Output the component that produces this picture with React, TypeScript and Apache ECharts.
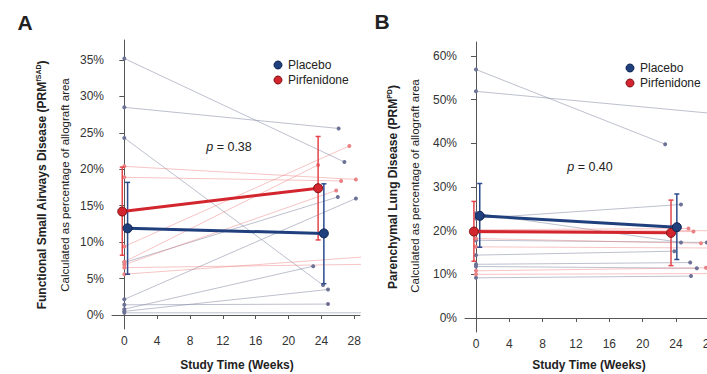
import React, { useEffect, useRef } from "react";
import * as echarts from "echarts";

const FONT = '"Liberation Sans", Arial, Helvetica, sans-serif';

// ---------- Panel A: Functional small airways disease (PRM fSAD, %) ----------
const aWeekTicks = [0, 4, 8, 12, 16, 20, 24, 28];
const aPctTicks = [0, 5, 10, 15, 20, 25, 30, 35];
const aPlaceboStart = [35.2, 28.5, 24.3, 7.2, 2.15, 0.8, 1.4, 0.5, 0.3];
const aPlaceboEndWeek = [26.8, 26.1, 24.2, 26.0, 28.2, 23.0, 24.8, 24.8, 32];
const aPlaceboEnd = [21.0, 25.6, 4.1, 16.2, 16.0, 6.7, 1.5, 3.5, 0.3];
const aPirfStart = [20.4, 18.9, 9.4, 7.3, 6.9, 6.5, 5.6];
const aPirfEndWeek = [28.2, 26.4, 27.4, 23.6, 25.8, 32, 32];
const aPirfEnd = [18.6, 18.4, 23.2, 20.6, 17.1, 7.0, 8.2];
const aPlaceboMeanWeek = [0.4, 24.3];
const aPlaceboMean = [11.9, 11.2];
const aPlaceboLow = [5.6, 4.3];
const aPlaceboHigh = [18.2, 18.0];
const aPirfMeanWeek = [-0.25, 23.6];
const aPirfMean = [14.2, 17.4];
const aPirfLow = [8.2, 10.3];
const aPirfHigh = [20.3, 24.5];

// ---------- Panel B: Parenchymal lung disease (PRM PD, %) ----------
const bWeekTicks = [0, 4, 8, 12, 16, 20, 24, 28];
const bPctTicks = [0, 10, 20, 30, 40, 50, 60];
const bPlaceboStart = [56.9, 51.9, 22.8, 24.0, 14.4, 12.3, 11.8, 9.2, 17.8];
const bPlaceboEndWeek = [22.7, 32, 24.6, 24.6, 23.8, 25.7, 26.5, 25.8, 27.7];
const bPlaceboEnd = [39.8, 46.2, 26.0, 17.3, 15.3, 12.7, 11.4, 9.6, 17.3];
const bPirfStart = [20.2, 19.5, 18.2, 16.3, 10.8, 10.0, 20.0];
const bPirfEndWeek = [25.5, 26.1, 27.0, 32, 27.6, 32, 32];
const bPirfEnd = [20.5, 19.8, 17.1, 16.0, 11.5, 10.2, 20.0];
const bPlaceboMeanWeek = [0.45, 24.1];
const bPlaceboMean = [23.4, 20.8];
const bPlaceboLow = [16.2, 13.4];
const bPlaceboHigh = [30.8, 28.4];
const bPirfMeanWeek = [-0.25, 23.4];
const bPirfMean = [19.8, 19.5];
const bPirfLow = [13.0, 12.0];
const bPirfHigh = [26.7, 27.0];

const groupNames = ["Placebo", "Pirfenidone"];

const C_PLACEBO = "#1f3f7d";
const C_PLACEBO_DARK = "#0e2250";
const C_PIRF = "#d3252d";
const C_PIRF_DARK = "#7e1216";
const C_PLACEBO_LINE = "rgba(135,140,165,0.55)";
const C_PLACEBO_PT = "#6c7196";
const C_PIRF_LINE = "rgba(238,125,125,0.45)";
const C_PIRF_PT = "#ea8184";

function individual(g: number, starts: number[], endW: number[], ends: number[], lineColor: string, ptColor: string) {
  return starts.map((s, i) => ({
    type: "line",
    xAxisIndex: g,
    yAxisIndex: g,
    data: [
      [0, s],
      [endW[i], ends[i]],
    ],
    symbol: "circle",
    symbolSize: 4,
    showSymbol: true,
    silent: true,
    clip: true,
    z: 1,
    lineStyle: { color: lineColor, width: 1 },
    itemStyle: { color: ptColor },
  }));
}

function meanSeries(g: number, name: string, weeks: number[], vals: number[], color: string, dark: string) {
  return {
    name,
    type: "line",
    xAxisIndex: g,
    yAxisIndex: g,
    data: weeks.map((w, i) => [w, vals[i]]),
    symbol: "circle",
    symbolSize: 9,
    silent: true,
    z: 6,
    lineStyle: { color, width: 3 },
    itemStyle: { color, borderColor: dark, borderWidth: 1 },
  };
}

function errSeries(g: number, weeks: number[], lows: number[], highs: number[], color: string) {
  return {
    type: "custom",
    xAxisIndex: g,
    yAxisIndex: g,
    z: 5,
    silent: true,
    data: weeks.map((w, i) => [w, lows[i], highs[i]]),
    encode: { x: 0, y: [1, 2] },
    renderItem: (_params: any, api: any) => {
      const x = api.value(0);
      const top = api.coord([x, api.value(2)]);
      const bot = api.coord([x, api.value(1)]);
      const c = 2.5;
      const style = { stroke: color, lineWidth: 1.5 };
      return {
        type: "group",
        children: [
          { type: "line", shape: { x1: top[0], y1: top[1], x2: bot[0], y2: bot[1] }, style },
          { type: "line", shape: { x1: top[0] - c, y1: top[1], x2: top[0] + c, y2: top[1] }, style },
          { type: "line", shape: { x1: bot[0] - c, y1: bot[1], x2: bot[0] + c, y2: bot[1] }, style },
        ],
      };
    },
  };
}

function xAxisDef(g: number, min: number, max: number, ticks: number[]) {
  return {
    type: "value",
    gridIndex: g,
    min,
    max,
    axisLine: { show: true, lineStyle: { color: "#555", width: 1 } },
    axisTick: { show: true, length: 4, customValues: ticks, lineStyle: { color: "#555" } },
    axisLabel: { customValues: ticks, margin: 6, fontSize: 12, color: "#333", fontFamily: FONT },
    splitLine: { show: false },
  };
}

function yAxisDef(g: number, min: number, max: number, ticks: number[]) {
  return {
    type: "value",
    gridIndex: g,
    min,
    max,
    axisLine: { show: true, lineStyle: { color: "#555", width: 1 } },
    axisTick: { show: true, length: 5, customValues: ticks, lineStyle: { color: "#555" } },
    axisLabel: {
      customValues: ticks,
      margin: 8,
      fontSize: 12,
      color: "#333",
      fontFamily: FONT,
      formatter: (v: number) => `${v}%`,
    },
    splitLine: { show: false },
  };
}

function rotText(x: number, y: number, text: string, rich: any) {
  return {
    type: "text",
    x,
    y,
    rotation: Math.PI / 2,
    silent: true,
    style: { text, rich, align: "center", verticalAlign: "middle", fill: "#222", fontFamily: FONT },
  };
}

function plainText(x: number, y: number, text: string, size: number, weight: string, rich?: any, align = "center") {
  return {
    type: "text",
    x,
    y,
    silent: true,
    style: {
      text,
      rich,
      align,
      verticalAlign: "middle",
      fill: "#222",
      fontFamily: FONT,
      fontSize: size,
      fontWeight: weight,
    },
  };
}

function legendItems(x: number, y: number) {
  const fills = [C_PLACEBO, C_PIRF];
  const strokes = [C_PLACEBO_DARK, C_PIRF_DARK];
  const out: any[] = [];
  groupNames.forEach((n, i) => {
    out.push({
      type: "circle",
      silent: true,
      shape: { cx: x, cy: y + i * 15, r: 4 },
      style: { fill: fills[i], stroke: strokes[i], lineWidth: 1 },
    });
    out.push(plainText(x + 10, y + i * 15, n, 12, "normal", undefined, "left"));
  });
  return out;
}

const titleRich = {
  b: { fontSize: 12, fontWeight: "bold", fontFamily: FONT, color: "#222", lineHeight: 14 },
  s: { fontSize: 7, fontWeight: "bold", fontFamily: FONT, color: "#222", verticalAlign: "top", lineHeight: 14, padding: [0, 0, 6, 0] },
};
const subRich = { n: { fontSize: 11.5, fontFamily: FONT, color: "#333" } };
const pRich = {
  i: { fontSize: 12.5, fontStyle: "italic", fontFamily: FONT, color: "#222" },
  n: { fontSize: 12.5, fontFamily: FONT, color: "#222" },
};

export default function App() {
  const ref = useRef<HTMLDivElement>(null);
  useEffect(() => {
    if (!ref.current) return;
    const chart = echarts.init(ref.current, null, { renderer: "svg" });
    const option: any = {
      animation: false,
      backgroundColor: "#ffffff",
      textStyle: { fontFamily: FONT },
      grid: [
        { left: 112, top: 40, width: 248, height: 289, outerBoundsMode: "none", containLabel: false },
        { left: 465, top: 42, width: 248.5, height: 290, outerBoundsMode: "none", containLabel: false },
      ],
      xAxis: [xAxisDef(0, -1.5, 28.7, aWeekTicks), xAxisDef(1, -1.32, 28.5, bWeekTicks)],
      yAxis: [yAxisDef(0, -1.92, 37.74, aPctTicks), yAxisDef(1, -3.2, 63.2, bPctTicks)],
      graphic: [
        plainText(25, 22, "A", 21, "bold"),
        plainText(382, 21, "B", 21, "bold"),
        rotText(42, 185, "{b|Functional Small Airways Disease (PRM}{s|fSAD}{b|)}", titleRich),
        rotText(65, 185, "{n|Calculated as percentage of allograft area}", subRich),
        rotText(393, 187, "{b|Parenchymal Lung Disease (PRM}{s|PD}{b|)}", titleRich),
        rotText(415, 186, "{n|Calculated as percentage of allograft area}", subRich),
        plainText(237, 365, "Study Time (Weeks)", 12, "bold"),
        plainText(589, 365, "Study Time (Weeks)", 12, "bold"),
        plainText(229, 147, "{i|p}{n| = 0.38}", 12.5, "normal", pRich),
        plainText(590, 167, "{i|p}{n| = 0.40}", 12.5, "normal", pRich),
        ...legendItems(278, 65),
        ...legendItems(630, 68),
      ],
      series: [
        ...individual(0, aPlaceboStart, aPlaceboEndWeek, aPlaceboEnd, C_PLACEBO_LINE, C_PLACEBO_PT),
        ...individual(0, aPirfStart, aPirfEndWeek, aPirfEnd, C_PIRF_LINE, C_PIRF_PT),
        ...individual(1, bPlaceboStart, bPlaceboEndWeek, bPlaceboEnd, C_PLACEBO_LINE, C_PLACEBO_PT),
        ...individual(1, bPirfStart, bPirfEndWeek, bPirfEnd, C_PIRF_LINE, C_PIRF_PT),
        errSeries(0, aPirfMeanWeek, aPirfLow, aPirfHigh, "#e3454a"),
        errSeries(0, aPlaceboMeanWeek, aPlaceboLow, aPlaceboHigh, "#2b4a8c"),
        errSeries(1, bPirfMeanWeek, bPirfLow, bPirfHigh, "#e3454a"),
        errSeries(1, bPlaceboMeanWeek, bPlaceboLow, bPlaceboHigh, "#2b4a8c"),
        meanSeries(0, groupNames[1], aPirfMeanWeek, aPirfMean, C_PIRF, C_PIRF_DARK),
        meanSeries(0, groupNames[0], aPlaceboMeanWeek, aPlaceboMean, C_PLACEBO, C_PLACEBO_DARK),
        meanSeries(1, groupNames[1], bPirfMeanWeek, bPirfMean, C_PIRF, C_PIRF_DARK),
        meanSeries(1, groupNames[0], bPlaceboMeanWeek, bPlaceboMean, C_PLACEBO, C_PLACEBO_DARK),
      ],
    };
    chart.setOption(option);
    return () => chart.dispose();
  }, []);
  return (
    <div
      ref={ref}
      style={{ position: "absolute", left: 0, top: 0, width: 707, height: 374, background: "#fff" }}
    />
  );
}
